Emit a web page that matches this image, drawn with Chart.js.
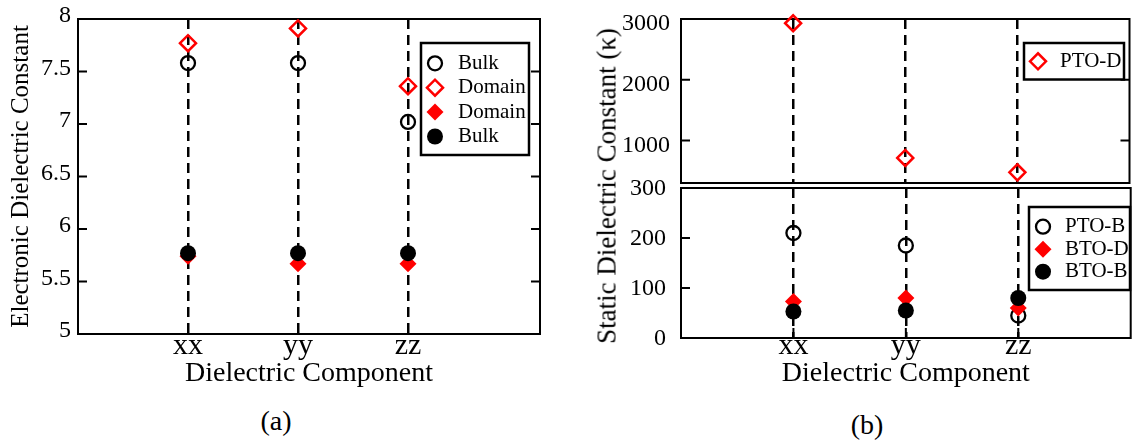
<!DOCTYPE html>
<html>
<head>
<meta charset="utf-8">
<script src="https://cdn.jsdelivr.net/npm/chart.js@4.4.1/dist/chart.umd.min.js"></script>
<style>
    body { margin: 0; width: 1135px; height: 445px; overflow: hidden; background: #fff; position: relative; font-family: "Liberation Serif", serif; }
    canvas { position: absolute; }
    .txt { position: absolute; white-space: nowrap; line-height: 1; color: #000; transform: translate(-50%, -50%); }
</style>
</head>
<body>
<canvas id="elecChart" width="560" height="400" style="left:0;top:0"></canvas>
<canvas id="staticTop" width="560" height="215" style="left:580px;top:0"></canvas>
<canvas id="staticBottom" width="560" height="235" style="left:580px;top:165px"></canvas>

<div class="txt" style="left:607px;top:186px;font-size:27px;transform:translate(-50%,-50%) rotate(-90deg)">Static Dielectric Constant (κ)</div>
<div class="txt" style="left:276px;top:421px;font-size:28px">(a)</div>
<div class="txt" style="left:867px;top:425px;font-size:28px">(b)</div>

<script>
const components = ["xx", "yy", "zz"];
const compPos = [1, 2, 3];

// (a) electronic dielectric constant
const elecBulkOpen = [7.58, 7.58, 7.02];
const elecDomainOpen = [7.77, 7.91, 7.36];
const elecDomainFilled = [5.74, 5.67, 5.67];
const elecBulkFilled = [5.77, 5.77, 5.77];
const elecTicks = [5, 5.5, 6, 6.5, 7, 7.5, 8];

// (b) static dielectric constant, broken axis
const ptoDomain = [2930, 712, 475];
const ptoBulk = [210, 185, 45];
const btoDomain = [73, 80, 60];
const btoBulk = [53, 55, 80];
const staticTopTicks = [1000, 2000, 3000];
const staticBottomTicks = [0, 100, 200, 300];

Chart.defaults.font.family = "'Liberation Serif', serif";
Chart.defaults.color = "#000";

const openCircle = {pointStyle: "circle", pointRadius: 7, pointBorderWidth: 2.3, pointBorderColor: "#000", pointBackgroundColor: "rgba(0,0,0,0)"};
const openDiamond = {pointStyle: "rectRot", pointRadius: 8, pointBorderWidth: 2.5, pointBorderColor: "#ff0000", pointBackgroundColor: "rgba(0,0,0,0)"};
const filledDiamond = {pointStyle: "rectRot", pointRadius: 8.5, pointBorderWidth: 0, pointBorderColor: "#ff0000", pointBackgroundColor: "#ff0000"};
const filledCircle = {pointStyle: "circle", pointRadius: 8, pointBorderWidth: 0, pointBorderColor: "#000", pointBackgroundColor: "#000"};

function series(label, values, style, order) {
    return Object.assign({
        label: label,
        order: order,
        data: values.map((v, i) => ({x: compPos[i], y: v})),
        showLine: false,
        clip: false,
        pointHoverRadius: style.pointRadius
    }, style);
}

function drawMarker(ctx, ds, x, y) {
    const r = ds.pointRadius;
    ctx.beginPath();
    if (ds.pointStyle === "circle") {
        ctx.arc(x, y, r, 0, 2 * Math.PI);
    } else {
        ctx.moveTo(x - r, y);
        ctx.lineTo(x, y - r);
        ctx.lineTo(x + r, y);
        ctx.lineTo(x, y + r);
        ctx.closePath();
    }
    ctx.fillStyle = ds.pointBackgroundColor;
    ctx.fill();
    if (ds.pointBorderWidth > 0) {
        ctx.lineWidth = ds.pointBorderWidth;
        ctx.strokeStyle = ds.pointBorderColor;
        ctx.stroke();
    }
}

// box around the plot, inward ticks, and a boxed legend inside the plot
function framePlugin(cfg) {
    return {
        id: "frame",
        beforeDatasetsDraw(chart) {
            const {ctx, chartArea: a, scales} = chart;
            ctx.save();
            ctx.strokeStyle = "#000";
            ctx.lineWidth = 2;
            ctx.strokeRect(a.left, a.top, a.right - a.left, a.bottom - a.top);
            scales.y.ticks.forEach(t => {
                const py = scales.y.getPixelForValue(t.value);
                if (py <= a.top + 1 || py >= a.bottom - 1) return;
                ctx.beginPath();
                ctx.moveTo(a.left, py); ctx.lineTo(a.left + 9, py);
                ctx.moveTo(a.right, py); ctx.lineTo(a.right - 9, py);
                ctx.stroke();
            });
            if (cfg.bottomTicks) {
                scales.x.ticks.forEach(t => {
                    const px = scales.x.getPixelForValue(t.value);
                    ctx.beginPath();
                    ctx.moveTo(px, a.bottom); ctx.lineTo(px, a.bottom - 10);
                    ctx.stroke();
                });
            }
            ctx.restore();
        },
        afterDatasetsDraw(chart) {
            const lg = cfg.legend;
            const ctx = chart.ctx;
            ctx.save();
            ctx.fillStyle = "#fff";
            ctx.fillRect(lg.x, lg.y, lg.w, lg.h);
            ctx.strokeStyle = "#000";
            ctx.lineWidth = 2.5;
            ctx.strokeRect(lg.x, lg.y, lg.w, lg.h);
            chart.data.datasets.forEach((ds, i) => {
                const ry = lg.y + lg.y0 + i * lg.step;
                drawMarker(ctx, ds, lg.x + lg.mdx, ry);
                ctx.fillStyle = "#000";
                ctx.font = "21px 'Liberation Serif', serif";
                ctx.textBaseline = "middle";
                ctx.textAlign = "left";
                ctx.fillText(ds.label, lg.x + lg.tdx, ry);
            });
            ctx.restore();
        }
    };
}

function xScale(max, height, showLabels, titlePad) {
    return {
        type: "linear",
        min: 0,
        max: max,
        afterBuildTicks: s => { s.ticks = compPos.map(v => ({value: v})); },
        afterFit: s => { s.height = height; },
        grid: {color: "#000", lineWidth: 2.5, drawTicks: false},
        border: {display: false, dash: [10, 6]},
        ticks: {
            display: showLabels,
            callback: v => components[v - 1],
            font: {size: 30, lineHeight: 1},
            padding: showLabels ? titlePad.tick : 0,
            maxRotation: 0, minRotation: 0, autoSkip: false
        },
        title: {
            display: showLabels,
            text: "Dielectric Component",
            font: {size: 28, lineHeight: 1},
            padding: {top: 0, bottom: titlePad.title}
        }
    };
}

function yScale(min, max, tickVals, width, pad, offset, title) {
    return {
        type: "linear",
        min: min,
        max: max,
        afterBuildTicks: s => { s.ticks = tickVals.map(v => ({value: v})); },
        afterFit: s => { s.width = width; },
        grid: {display: false, drawTicks: false},
        border: {display: false},
        ticks: {
            callback: v => String(v),
            font: {size: 24, lineHeight: 0.5},
            padding: pad,
            labelOffset: offset,
            autoSkip: false
        },
        title: title ? {
            display: true,
            text: title,
            font: {size: 25, lineHeight: 1.2},
            padding: {top: 6, bottom: 0}
        } : {display: false}
    };
}

const baseOpts = {
    responsive: false,
    animation: false,
    devicePixelRatio: 1,
    events: [],
    plugins: {legend: {display: false}, tooltip: {enabled: false}}
};

new Chart(document.getElementById("elecChart"), {
    type: "scatter",
    data: {
        datasets: [
            series("Bulk", elecBulkOpen, openCircle, 2),
            series("Domain", elecDomainOpen, openDiamond, 1),
            series("Domain", elecDomainFilled, filledDiamond, 4),
            series("Bulk", elecBulkFilled, filledCircle, 3)
        ]
    },
    options: Object.assign({}, baseOpts, {
        layout: {padding: {left: 0, top: 19, right: 20, bottom: 0}},
        scales: {
            x: xScale(4.2, 66, true, {tick: -3, title: 12}),
            y: yScale(5, 8, elecTicks, 78, 7, -3, "Electronic Dielectric Constant")
        }
    }),
    plugins: [framePlugin({
        bottomTicks: true,
        legend: {x: 421, y: 43, w: 108, h: 112, y0: 20.3, step: 24.4, mdx: 14, tdx: 37}
    })]
});

new Chart(document.getElementById("staticTop"), {
    type: "scatter",
    data: {
        datasets: [series("PTO-D", ptoDomain, openDiamond, 0)]
    },
    options: Object.assign({}, baseOpts, {
        layout: {padding: {left: 0, top: 19, right: 3, bottom: 0}},
        scales: {
            x: xScale(4, 32, false, {tick: 0, title: 0}),
            y: yScale(300, 3000, staticTopTicks, 101, 11, 5, null)
        }
    }),
    plugins: [framePlugin({
        bottomTicks: false,
        legend: {x: 444, y: 43, w: 100, h: 36.5, y0: 18.3, step: 0, mdx: 14, tdx: 36}
    })]
});

new Chart(document.getElementById("staticBottom"), {
    type: "scatter",
    data: {
        datasets: [
            series("PTO-B", ptoBulk, openCircle, 2),
            series("BTO-D", btoDomain, filledDiamond, 1),
            series("BTO-B", btoBulk, filledCircle, 0)
        ]
    },
    options: Object.assign({}, baseOpts, {
        layout: {padding: {left: 0, top: 23, right: 3, bottom: 0}},
        scales: {
            x: xScale(4, 62, true, {tick: -7, title: 12}),
            y: yScale(0, 300, staticBottomTicks, 101, 15, 1, null)
        }
    }),
    plugins: [framePlugin({
        bottomTicks: true,
        legend: {x: 449, y: 42, w: 101, h: 83, y0: 19.7, step: 22.5, mdx: 14, tdx: 36}
    })]
});
</script>
</body>
</html>
